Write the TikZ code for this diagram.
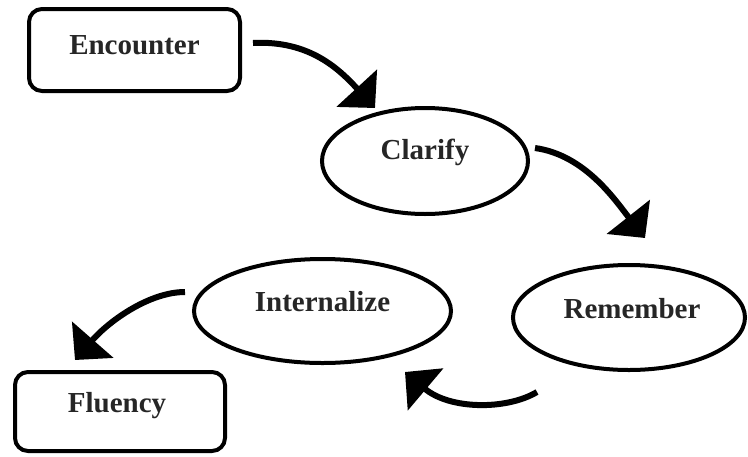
\documentclass[tikz,border=0pt]{standalone}
\usepackage{fontspec}
\setmainfont{Liberation Serif}
\usetikzlibrary{arrows.meta,shapes.geometric}
\tikzset{
  box/.style={draw, line width=4pt, rounded corners=13pt, inner sep=0pt},
  oval/.style={draw, ellipse, line width=4pt, inner sep=0pt},
  lbl/.style={font=\fontsize{29pt}{34pt}\selectfont\bfseries, inner sep=0pt, text=black!85},
  arr/.style={line width=6pt, -{Triangle[length=27pt,width=54pt]}},
}
\begin{document}
\begin{tikzpicture}[x=1pt,y=-1pt]
\useasboundingbox (0,0) rectangle (748,456);
\node[box, minimum width=211pt, minimum height=82pt,
  label={[lbl,yshift=5pt]center:Encounter}] (enc) at (134.5,50) {};
\node[box, minimum width=210pt, minimum height=79pt,
  label={[lbl,yshift=6pt,xshift=-3pt]center:Fluency}] (flu) at (120,411.5) {};
\node[oval, minimum width=206pt, minimum height=106pt,
  label={[lbl,yshift=9pt]center:Clarify}] (cla) at (425,161) {};
\node[oval, minimum width=257pt, minimum height=104pt,
  label={[lbl,yshift=9pt]center:Internalize}] (int) at (322.5,311) {};
\node[oval, minimum width=232pt, minimum height=105pt,
  label={[lbl,yshift=9pt,xshift=3pt]center:Remember}] (rem) at (629,317.5) {};

\draw[arr] ([shift={(11,-7)}]enc.east) .. controls +(57,-3) and +(-35,-38) .. ([shift={(-50,-53)}]cla.center);
\draw[arr] ([shift={(110,-13)}]cla.center) .. controls +(50,7) and +(-30,-38) .. ([shift={(16,-79.5)}]rem.center);
\draw[arr] ([shift={(-92,74.5)}]rem.center) .. controls +(-30,18) and +(45,38) .. ([shift={(82.5,61)}]int.center);
\draw[arr] ([shift={(-137.5,-19)}]int.center) .. controls +(-35,0) and +(35,-40) .. ([shift={(-45,-51.5)}]flu.center);
\end{tikzpicture}
\end{document}
